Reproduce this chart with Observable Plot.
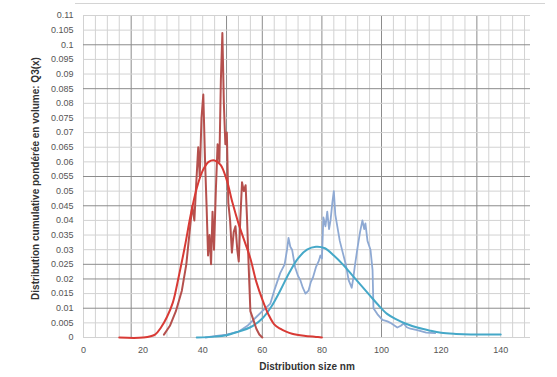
<!DOCTYPE html>
<html>
<head>
<meta charset="utf-8">
<script src="https://cdn.jsdelivr.net/npm/d3@7"></script>
<script src="https://cdn.jsdelivr.net/npm/@observablehq/plot@0.6"></script>
<style>
  html, body { margin: 0; padding: 0; background: #fff; }
  #wrap { position: relative; width: 557px; height: 377px; }
  #topline { position: absolute; left: 75px; top: 3px; width: 470px; height: 0; border-top: 1px solid #d4d4d4; }
</style>
</head>
<body>
<div id="wrap"><div id="topline"></div></div>
<script>
// ---- data ----
const xTicks = [0, 20, 40, 60, 80, 100, 120, 140];
const yTicks = [0, 0.005, 0.01, 0.015, 0.02, 0.025, 0.03, 0.035, 0.04, 0.045, 0.05, 0.055,
                0.06, 0.065, 0.07, 0.075, 0.08, 0.085, 0.09, 0.095, 0.1, 0.105, 0.11];
const xTitle = "Distribution size nm";
const yTitle = "Distribution cumulative pondérée en volume: Q3(x)";

// measured distribution (red, jagged)
const redRaw = [
  [27, 0.001], [29, 0.004], [31, 0.009], [33, 0.016], [34.5, 0.025], [35.5, 0.035],
  [36.5, 0.045], [37.2, 0.040], [37.8, 0.052], [38.5, 0.065], [39, 0.055], [39.6, 0.075],
  [40.2, 0.083], [40.8, 0.060], [41.3, 0.045], [41.8, 0.028], [42.3, 0.035], [42.8, 0.025],
  [43.3, 0.043], [43.8, 0.030], [44.4, 0.050], [45, 0.066], [45.6, 0.060], [46.1, 0.088],
  [46.6, 0.104], [47.1, 0.080], [47.6, 0.066], [48.1, 0.070], [48.6, 0.046], [49.2, 0.040],
  [49.8, 0.029], [50.4, 0.036], [51, 0.038], [51.6, 0.030], [52.1, 0.026], [52.6, 0.040],
  [53.2, 0.053], [53.8, 0.050], [54.4, 0.052], [54.9, 0.040], [55.4, 0.025], [56, 0.009],
  [57, 0.006], [58, 0.003], [59, 0.001], [60, 0]
];
// fitted curve (red, smooth)
const redFit = [
  [12, 0], [20, 0], [24, 0.001], [26, 0.0034], [28, 0.007], [30, 0.012], [32, 0.021],
  [34, 0.031], [36, 0.042], [38, 0.051], [40, 0.057], [42, 0.060], [44, 0.0605], [46, 0.059],
  [48, 0.054], [50, 0.046], [52, 0.039], [54, 0.033], [56, 0.027], [58, 0.019], [60, 0.013],
  [62, 0.008], [64, 0.0045], [66, 0.003], [68, 0.002], [70, 0.0013], [74, 0.0006],
  [78, 0.0002], [80, 0]
];
// measured distribution (blue, jagged)
const blueRaw = [
  [41, 0], [44, 0.0005], [48, 0.001], [52, 0.002], [55, 0.004], [58, 0.007], [60, 0.009],
  [62.7, 0.0116], [64, 0.016], [66, 0.022], [67.5, 0.025], [68.3, 0.030], [68.8, 0.034],
  [69.4, 0.031], [70, 0.030], [71, 0.024], [72, 0.021], [72.8, 0.0195], [73.6, 0.017],
  [74.5, 0.015], [75.5, 0.016], [76.3, 0.019], [77, 0.0205], [78, 0.024], [78.9, 0.026],
  [79.5, 0.028], [80, 0.027], [80.5, 0.041], [81.2, 0.038], [81.8, 0.043], [82.4, 0.037],
  [82.9, 0.040], [83.5, 0.046], [84, 0.050], [84.5, 0.042], [85, 0.039], [85.5, 0.036],
  [86, 0.033], [87, 0.029], [88, 0.025], [89, 0.0195], [90, 0.017], [90.5, 0.020],
  [91, 0.024], [92, 0.031], [92.8, 0.036], [93.6, 0.040], [94.2, 0.037], [94.6, 0.039],
  [95.3, 0.033], [96.3, 0.030], [97, 0.023], [97.3, 0.010], [98.6, 0.008], [100.3, 0.006],
  [102, 0.0055], [103, 0.005], [105.3, 0.0034], [106.5, 0.004], [107.4, 0.0048],
  [108.5, 0.0035], [109.7, 0.003], [112, 0.0025], [115, 0.0017], [118, 0.0015]
];
// fitted curve (blue, smooth)
const blueFit = [
  [38, 0], [44, 0.0003], [48, 0.0008], [52, 0.002], [56, 0.0035], [60, 0.0065], [63, 0.0105],
  [66, 0.016], [69, 0.022], [72, 0.027], [75, 0.030], [78, 0.031], [81, 0.0305], [84, 0.028],
  [87, 0.025], [90, 0.0215], [93, 0.018], [96, 0.0145], [99, 0.011], [102, 0.008],
  [105, 0.0062], [108, 0.0048], [112, 0.0034], [116, 0.0024], [120, 0.0016], [125, 0.0012],
  [130, 0.001], [135, 0.001], [140, 0.001]
];
const xGrid = d3.range(0, 149, 4);
const xGridDark = [16, 48, 60, 80, 100, 132];
const yGridDark = [0.1, 0.085, 0.055, 0.045, 0.025, 0.02, 0.01];

const font = "'Liberation Sans', Arial, sans-serif";

const chart = Plot.plot({
  width: 557,
  height: 377,
  marginLeft: 83,
  marginRight: 27,
  marginTop: 15,
  marginBottom: 40,
  style: {fontFamily: font, background: "transparent", overflow: "visible"},
  x: {domain: [0, 150]},
  y: {domain: [0, 0.11]},
  marks: [
    Plot.ruleX(xGrid, {x: d => d, stroke: d => xGridDark.includes(d) ? "#8c8c8c" : "#d2d2d2", strokeWidth: 1}),
    Plot.ruleY(yTicks, {y: d => d, stroke: d => yGridDark.some(v => Math.abs(v - d) < 1e-9) ? "#8c8c8c" : "#d2d2d2", strokeWidth: 1}),
    Plot.line(blueRaw, {x: d => d[0], y: d => d[1], stroke: "#8ea9d3", strokeWidth: 1.8}),
    Plot.line(blueFit, {x: d => d[0], y: d => d[1], stroke: "#45a8c8", strokeWidth: 2, curve: "catmull-rom"}),
    Plot.line(redRaw, {x: d => d[0], y: d => d[1], stroke: "#b5504d", strokeWidth: 2}),
    Plot.line(redFit, {x: d => d[0], y: d => d[1], stroke: "#d83a35", strokeWidth: 2, curve: "catmull-rom"}),
    Plot.axisX({ticks: xTicks, tickSize: 0, tickPadding: 9, fontSize: 9, fill: "#555", label: null}),
    Plot.axisY({ticks: yTicks, tickSize: 0, tickPadding: 10, fontSize: 9, fill: "#555", label: null,
                tickFormat: d => String(d)}),
    Plot.text([xTitle], {frameAnchor: "bottom", dy: 32, text: d => d, fontSize: 10, fontWeight: "bold", fill: "#333"}),
    Plot.text([yTitle], {frameAnchor: "left", textAnchor: "middle", dx: -48, dy: 2, rotate: -90, text: d => d, fontSize: 10, fontWeight: "bold", fill: "#333"})
  ]
});
document.getElementById("wrap").appendChild(chart);
chart.style.position = "absolute";
chart.style.left = "0";
chart.style.top = "0";
</script>
</body>
</html>
